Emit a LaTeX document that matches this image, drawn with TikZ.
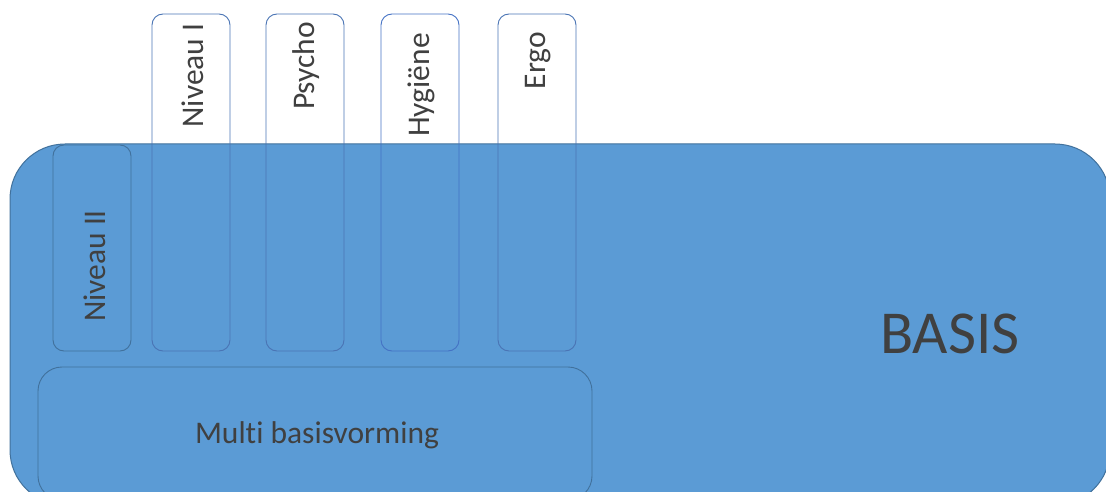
\documentclass[tikz,border=0pt]{standalone}
\usepackage{fontspec}
\setmainfont{Carlito}[Ligatures=NoCommon]
\definecolor{basisblue}{HTML}{5B9BD5}
\definecolor{edgeblue}{HTML}{41719C}
\definecolor{tabblue}{HTML}{4A74B4}
\definecolor{hygblue}{HTML}{4472C4}
\definecolor{txtgray}{HTML}{404040}

\begin{document}
\begin{tikzpicture}[x=1pt,y=-1pt,
    basis/.style={draw=edgeblue,fill=basisblue,line width=1pt,rounded corners=55pt,
      minimum width=1100pt,minimum height=361pt,inner sep=0pt},
    vak/.style={draw=edgeblue,line width=0.9pt,rounded corners=11pt,
      minimum width=78pt,inner sep=0pt},
    tab/.style={vak,draw=tabblue,minimum height=337pt},
    opschrift/.style={text=txtgray,inner sep=0pt,font=\fontsize{31.5}{36}\selectfont}]
    \useasboundingbox (0,0) rectangle (1106,492);
    \clip (0,0) rectangle (1106,492);

    % Basis block
    \node[basis] (basis) at (560,324.5) {};
    \node[opschrift,font=\fontsize{61}{70}\selectfont] (basistxt) at (950,334) {BASIS};

    % Multi basisvorming
    \node[vak,minimum width=554pt,minimum height=133pt,rounded corners=24pt] (multi) at (315,433.5) {};
    \node[opschrift] (multitxt) at (317,435) {Multi basisvorming};

    % Niveau II
    \node[vak,minimum height=206pt] (niv2) at (92,248) {};
    \node[opschrift,rotate=90] (niv2txt) at (95,266) {Niveau II};

    % Tabs sticking out above
    \node[tab] (niv1) at (191,182.5) {};
    \node[tab] (psycho) at (305,182.5) {};
    \node[tab,draw=hygblue] (hyg) at (420,182.5) {};
    \node[tab] (ergo) at (537,182.5) {};

    \node[opschrift,rotate=90] (niv1txt) at (193,75.5) {Niveau I};
    \node[opschrift,rotate=90] (psychotxt) at (306,66) {Psycho};
    \node[opschrift,rotate=90] (hygtxt) at (421,85) {Hygiëne};
    \node[opschrift,rotate=90] (ergotxt) at (538,60.5) {Ergo};
\end{tikzpicture}
\end{document}
